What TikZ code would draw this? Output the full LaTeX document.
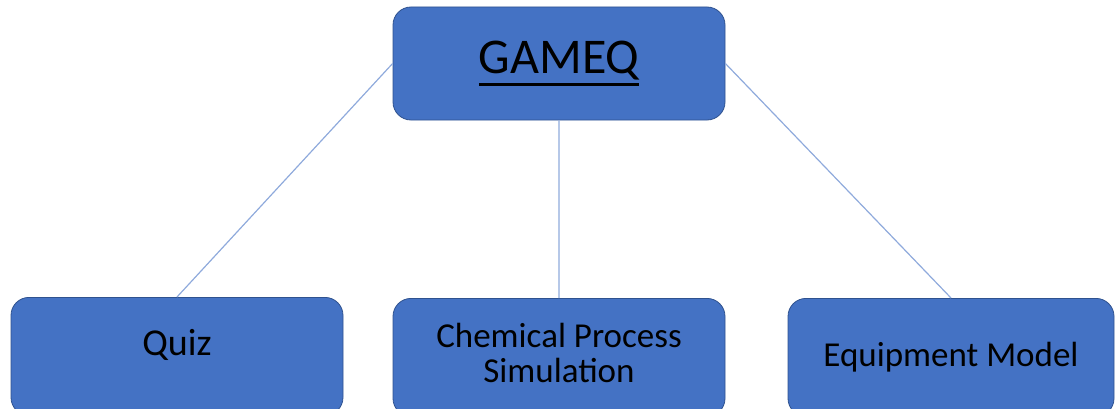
\documentclass[tikz,border=0pt]{standalone}
\usepackage{fontspec}
\setmainfont{Carlito}
\usepackage{xcolor}
\usepackage{tikz}
\definecolor{boxblue}{HTML}{4472C4}
\definecolor{boxedge}{HTML}{2F528F}
\definecolor{linkblue}{HTML}{8FAADC}
\newcommand{\ulword}[1]{\setbox0\hbox{#1}\rlap{\rule[-12.5pt]{\wd0}{3pt}}\box0}

\begin{document}
\begin{tikzpicture}[x=1pt,y=1pt,
	box/.style={draw=boxedge,fill=boxblue,line width=0.8pt,rounded corners=18pt,
		minimum width=332pt,minimum height=118pt,inner sep=0pt,align=center},
	bigtext/.style={font=\fontsize{50}{56}\selectfont},
	smalltext/.style={font=\fontsize{35}{35}\selectfont}]
	\useasboundingbox (0,0) rectangle (1115,408);
	%
	\node[box,bigtext,minimum height=113pt] (gameq) at (559,344.5) {\ulword{GAMEQ}};
	\node[box,font=\fontsize{38}{38}\selectfont,anchor=north,text depth=27pt] (quiz) at (177,111) {Quiz};
	\node[box,smalltext,anchor=north,text depth=10pt] (chem) at (559,110) {Chemical Process\\Simulation};
	\node[box,smalltext,anchor=north,minimum width=326pt] (equip) at (951,110) {Equipment Model};
	%
	\path[draw=linkblue,line width=1.2pt]
	(gameq.west) -- (quiz.north)
	(gameq.south) -- (chem.north)
	(gameq.east) -- (equip.north);
\end{tikzpicture}
\end{document}
